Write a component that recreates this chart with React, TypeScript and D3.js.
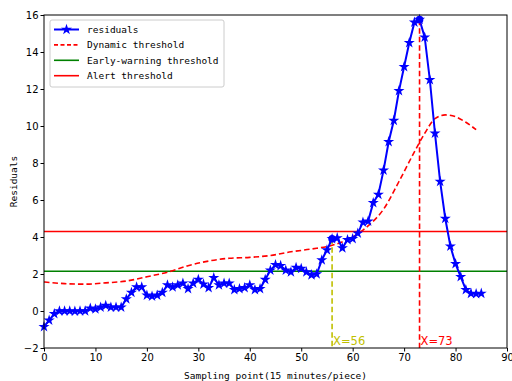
import { useEffect, useRef } from 'react';
import * as d3 from 'd3';

// residuals, one per sampling point 0..85
const residuals = [
  -0.85, -0.5, -0.15, 0.0, 0.0, 0.0, -0.02, 0.0, 0.0, 0.15,
  0.1, 0.2, 0.3, 0.2, 0.2, 0.2, 0.65, 1.0, 1.3, 1.3,
  0.85, 0.8, 0.85, 1.0, 1.4, 1.3, 1.4, 1.5, 1.2, 1.5,
  1.7, 1.45, 1.25, 1.8, 1.4, 1.5, 1.5, 1.15, 1.2, 1.25,
  1.4, 1.15, 1.2, 1.7, 2.2, 2.5, 2.45, 2.2, 2.1, 2.35,
  2.3, 2.1, 1.95, 2.0, 2.75, 3.3, 3.9, 3.95, 3.4, 3.85,
  3.9, 4.2, 4.8, 4.85, 5.85, 6.3, 7.6, 9.15, 10.3, 11.9,
  13.2, 14.5, 15.6, 15.75, 14.8, 12.5, 9.6, 7.0, 5.0, 3.5,
  2.55, 1.85, 1.15, 0.95, 0.93, 0.95,
];

// dynamic threshold, read at a few sampling points
const dynX = [0, 4, 8, 12, 16, 20, 24, 28, 32, 36, 40, 44, 48, 52, 56, 60, 63, 66, 69, 72, 74, 76, 78, 80, 82, 84];
const dynY = [1.57, 1.48, 1.45, 1.52, 1.62, 1.85, 2.1, 2.45, 2.7, 2.85, 2.9, 3.0, 3.2, 3.35, 3.55, 4.0, 4.6, 5.5, 7.0, 8.6, 9.6, 10.4, 10.6, 10.5, 10.2, 9.8];

const earlyWarning = 2.15;
const alertLevel = 4.3;
const markedPoints = [56, 73];

const xTicks = [0, 10, 20, 30, 40, 50, 60, 70, 80, 90];
const yTicks = [-2, 0, 2, 4, 6, 8, 10, 12, 14, 16];

const legendItems = ['residuals', 'Dynamic threshold', 'Early-warning threshold', 'Alert threshold'];

export default function App() {
  const svgRef = useRef<SVGSVGElement>(null);

  useEffect(() => {
    const width = 512;
    const height = 381;
    const margin = { top: 15, right: 5, bottom: 33, left: 44 };
    const innerWidth = width - margin.left - margin.right;
    const innerHeight = height - margin.top - margin.bottom;
    const mono = "'DejaVu Sans Mono', monospace";
    const sans = "'DejaVu Sans', sans-serif";

    const svg = d3.select(svgRef.current);
    svg.selectAll('*').remove();
    svg.attr('width', width).attr('height', height);

    const g = svg.append('g').attr('transform', `translate(${margin.left},${margin.top})`);

    const x = d3.scaleLinear().domain([0, 90]).range([0, innerWidth]);
    const y = d3.scaleLinear().domain([-2, 16]).range([innerHeight, 0]);

    // threshold lines
    g.append('line')
      .attr('x1', 0).attr('x2', innerWidth)
      .attr('y1', y(earlyWarning)).attr('y2', y(earlyWarning))
      .attr('stroke', 'green').attr('stroke-width', 1.6);
    g.append('line')
      .attr('x1', 0).attr('x2', innerWidth)
      .attr('y1', y(alertLevel)).attr('y2', y(alertLevel))
      .attr('stroke', 'red').attr('stroke-width', 1.4);

    // dynamic threshold
    const dynLine = d3.line<number>()
      .x((_, i) => x(dynX[i]))
      .y(d => y(d))
      .curve(d3.curveMonotoneX);
    g.append('path')
      .datum(dynY)
      .attr('fill', 'none')
      .attr('stroke', 'red')
      .attr('stroke-width', 1.6)
      .attr('stroke-dasharray', '5.5,3')
      .attr('d', dynLine);

    // residuals
    const resLine = d3.line<number>()
      .x((_, i) => x(i))
      .y(d => y(d));
    g.append('path')
      .datum(residuals)
      .attr('fill', 'none')
      .attr('stroke', 'blue')
      .attr('stroke-width', 2)
      .attr('d', resLine);

    const star = d3.symbol().type(d3.symbolStar).size(38);
    g.selectAll('.star')
      .data(residuals)
      .join('path')
      .attr('transform', (d, i) => `translate(${x(i)},${y(d)})`)
      .attr('d', star())
      .attr('fill', 'blue');

    // vertical markers
    const colors = ['#bfbf00', 'red'];
    markedPoints.forEach((p, i) => {
      g.append('line')
        .attr('x1', x(p)).attr('x2', x(p))
        .attr('y1', y(residuals[p])).attr('y2', innerHeight)
        .attr('stroke', colors[i])
        .attr('stroke-width', 1.6)
        .attr('stroke-dasharray', '5.5,3');
      g.append('circle')
        .attr('cx', x(p)).attr('cy', y(residuals[p]))
        .attr('r', 3.8)
        .attr('fill', 'blue');
      g.append('text')
        .attr('x', x(p) + 1)
        .attr('y', innerHeight - 3)
        .attr('fill', colors[i])
        .style('font-family', sans)
        .style('font-size', '11.5px')
        .text(`X=${p}`);
    });

    // frame
    g.append('rect')
      .attr('width', innerWidth).attr('height', innerHeight)
      .attr('fill', 'none').attr('stroke', 'black').attr('stroke-width', 1);

    // axes
    const xAxis = g.append('g')
      .attr('transform', `translate(0,${innerHeight})`)
      .call(d3.axisBottom(x).tickValues(xTicks).tickSize(3.5).tickPadding(2));
    const yAxis = g.append('g')
      .call(d3.axisLeft(y).tickValues(yTicks).tickSize(3.5).tickPadding(2)
        .tickFormat(d => (+d < 0 ? `\u2212${Math.abs(+d)}` : `${d}`)));
    [xAxis, yAxis].forEach(a => {
      a.select('.domain').remove();
      a.selectAll('text').style('font-family', sans).style('font-size', '10px').attr('fill', 'black');
    });

    g.append('text')
      .attr('x', innerWidth / 2)
      .attr('y', innerHeight + 31)
      .attr('text-anchor', 'middle')
      .style('font-family', mono)
      .style('font-size', '9.5px')
      .text('Sampling point(15 minutes/piece)');

    g.append('text')
      .attr('transform', 'rotate(-90)')
      .attr('x', -innerHeight / 2)
      .attr('y', -27)
      .attr('text-anchor', 'middle')
      .style('font-family', mono)
      .style('font-size', '9.5px')
      .text('Residuals');

    // legend
    const legend = g.append('g').attr('transform', 'translate(6,5)');
    legend.append('rect')
      .attr('width', 174).attr('height', 67).attr('rx', 2)
      .attr('fill', 'white').attr('fill-opacity', 0.8)
      .attr('stroke', '#cccccc');
    const legendStyles = [
      { color: 'blue', dash: null, width: 2 },
      { color: 'red', dash: '4,2.5', width: 1.6 },
      { color: 'green', dash: null, width: 1.6 },
      { color: 'red', dash: null, width: 1.6 },
    ];
    legendItems.forEach((label, i) => {
      const ly = 9.5 + i * 15.4;
      const st = legendStyles[i];
      legend.append('line')
        .attr('x1', 4).attr('x2', 29)
        .attr('y1', ly).attr('y2', ly)
        .attr('stroke', st.color)
        .attr('stroke-width', st.width)
        .attr('stroke-dasharray', st.dash);
      if (i === 0) {
        legend.append('path')
          .attr('transform', `translate(16.5,${ly})`)
          .attr('d', star())
          .attr('fill', 'blue');
      }
      legend.append('text')
        .attr('x', 37)
        .attr('y', ly + 3.5)
        .style('font-family', mono)
        .style('font-size', '9.5px')
        .text(label);
    });
  }, []);

  return <svg ref={svgRef} style={{ position: 'absolute', left: 0, top: 0 }} />;
}
